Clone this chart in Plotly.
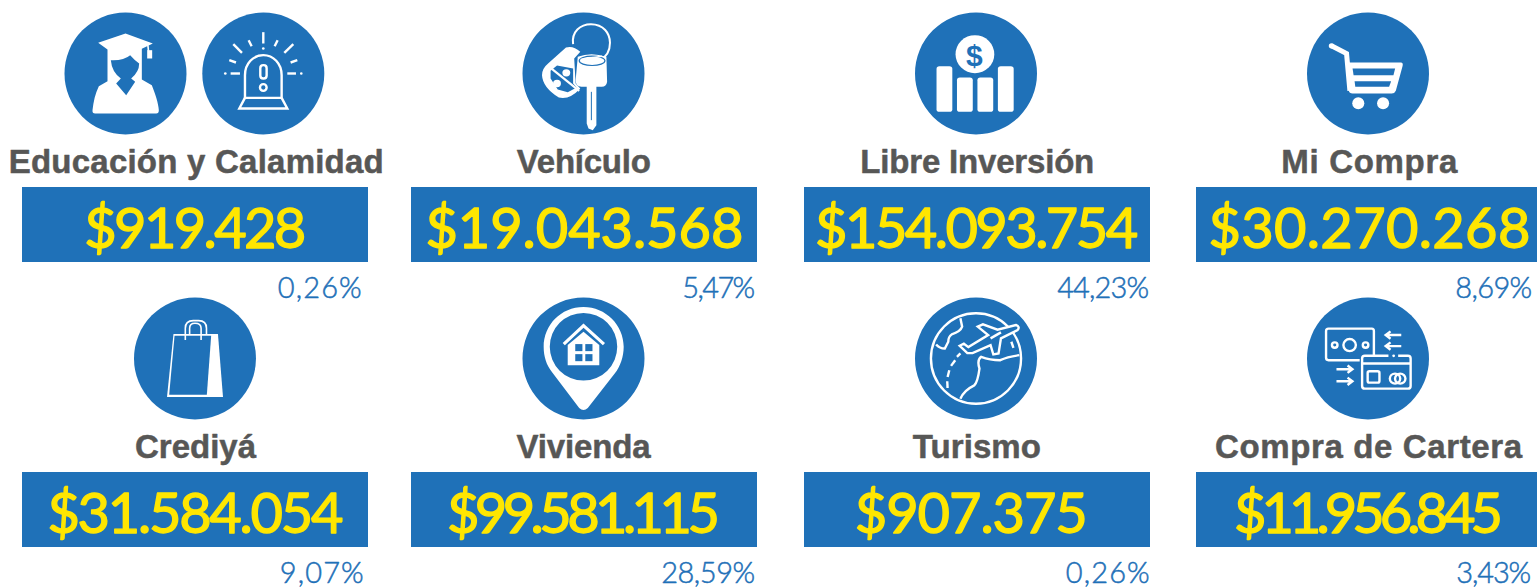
import re
import json
import plotly.graph_objects as go

# ---- data ----
categories = ["Educación y Calamidad", "Vehículo", "Libre Inversión", "Mi Compra",
              "Crediyá", "Vivienda", "Turismo", "Compra de Cartera"]
amounts = [919428, 19043568, 154093754, 30270268,
           31584054, 99581115, 907375, 11956845]
shares = ["0,26%", "5,47%", "44,23%", "8,69%",
          "9,07%", "28,59%", "0,26%", "3,43%"]

# ---- layout ----
W, H = 1537, 587
BLUE, YELLOW, GREY, WHITE = "#1f71b8", "#ffe600", "#575756", "#ffffff"
panel_x = [(22, 368), (411, 757), (804, 1150), (1196, 1537)]
title_x = [195.5, 584, 977, 1369]
amount_x = [195, 584, 976.5, 1369, 195, 583.5, 971.5, 1368.5]
share_right = [361, 759.5, 1153, 1534.5, 362.5, 758, 1148.5, 1534.5]
row_top = [0, 285]
title_w = [375, 134, 234, 176, 121, 134, 128, 307]
amount_w = [222, 318, 323, 322, 296, 273, 233, 269]
share_w = [84, 73, 92, 77, 84, 94, 84, 75]
R = 61

shapes = []


class Icon:
    """Draws with coordinates measured in a zoomed crop, mapped on a circle."""
    def __init__(self, cx, cy, zx, zy, rx, ry):
        self.cx, self.cy, self.zx, self.zy = cx, cy, zx, zy
        self.sx, self.sy = R / rx, R / ry
        shapes.append(dict(type="circle", x0=cx - R, x1=cx + R, y0=cy - R, y1=cy + R,
                           fillcolor=BLUE, line=dict(width=0)))

    def mx(self, x):
        return self.cx + (x - self.zx) * self.sx

    def my(self, y):
        return self.cy + (y - self.zy) * self.sy

    def path(self, d, fill=None, stroke=None, w=2.4):
        i = [0]

        def rep(m):
            v = float(m.group())
            out = self.mx(v) if i[0] % 2 == 0 else self.my(v)
            i[0] += 1
            return f"{out:.2f}"
        d2 = re.sub(r"-?\d+\.?\d*", rep, d)
        shapes.append(dict(type="path", path=d2, fillcolor=fill or "rgba(0,0,0,0)",
                           line=dict(color=stroke or "rgba(0,0,0,0)", width=w if stroke else 0)))

    def ell(self, x, y, rx, ry=None, fill=None, stroke=None, w=2.4):
        ry = rx if ry is None else ry
        shapes.append(dict(type="circle", x0=self.mx(x - rx), x1=self.mx(x + rx),
                           y0=self.my(y - ry), y1=self.my(y + ry),
                           fillcolor=fill or "rgba(0,0,0,0)",
                           line=dict(color=stroke or "rgba(0,0,0,0)", width=w if stroke else 0)))

    def rrect(self, x0, y0, x1, y1, r, fill=None, stroke=None, w=2.4):
        d = (f"M {x0+r} {y0} L {x1-r} {y0} Q {x1} {y0} {x1} {y0+r} L {x1} {y1-r} "
             f"Q {x1} {y1} {x1-r} {y1} L {x0+r} {y1} Q {x0} {y1} {x0} {y1-r} "
             f"L {x0} {y0+r} Q {x0} {y0} {x0+r} {y0} Z")
        self.path(d, fill, stroke, w)


def graduate():
    i = Icon(125.5, 73.5, 376, 220, 183, 183)
    i.path("M 376 100 L 458 130 L 425 146 L 425 238 L 455 255 C 465 280 475 310 476 330 "
           "Q 476 340 468 340 L 285 340 Q 276 340 277 330 C 280 305 285 280 296 258 "
           "L 322 243 L 322 148 L 294 128 Z", fill=WHITE)
    i.path("M 332 180 Q 370 182 390 165 Q 405 182 417 190 Q 417 215 393 235 L 405 245 "
           "L 378 285 L 348 250 L 362 235 Q 335 215 332 180 Z", fill=BLUE)
    i.path("M 443 135 L 445 152", stroke=WHITE, w=1.6)
    i.path("M 441 150 L 456 150 L 456 175 L 441 175 Z", fill=WHITE)


def siren():
    i = Icon(263.3, 73.5, 790, 220, 183, 183)
    for d in ["M 790 96 L 790 130", "M 700 132 L 726 158", "M 880 132 L 853 158",
              "M 746 120 L 755 138", "M 833 120 L 824 138", "M 688 180 L 708 187",
              "M 892 180 L 872 187", "M 692 220 L 720 220", "M 862 220 L 888 220"]:
        i.path(d, stroke=WHITE, w=2.4)
    for x, y in [(790, 145), (676, 220), (904, 220)]:
        i.ell(x, y, 4, fill=WHITE)
    i.path("M 735 293 L 735 225 C 735 190 760 165 790 165 C 820 165 845 190 845 225 L 845 293 Z",
           stroke=WHITE)
    i.path("M 735 293 L 718 325 L 862 325 L 845 293", stroke=WHITE)
    i.rrect(781, 195, 800, 235, 9, stroke=WHITE)
    i.ell(790, 262, 10, stroke=WHITE)


def keys():
    i = Icon(583.5, 73.5, 234, 220, 170.5, 183)
    i.path("M 205 132 C 200 95 225 72 255 72 C 290 72 308 100 308 128 C 308 150 298 170 280 180",
           stroke=WHITE, w=2)
    i.path("M 185 142 Q 205 135 225 155 L 208 175 L 212 250 L 225 265 Q 195 300 165 292 "
           "Q 120 262 118 225 Q 118 205 135 190 Z", fill=WHITE)
    i.path("M 142 212 L 160 196 L 205 205 L 205 250 L 215 262 L 190 276 L 162 268 L 142 235 Z", fill=BLUE)
    i.path("M 136 198 L 222 272", stroke=WHITE, w=2.2)
    i.ell(186, 218, 11, fill=WHITE)
    i.ell(160, 250, 11, fill=WHITE)
    i.path("M 218 170 Q 255 155 298 170 L 300 245 Q 298 260 285 260 L 270 260 L 270 375 "
           "L 260 390 L 248 385 L 243 370 L 243 260 L 228 260 Q 212 258 212 240 Z", fill=WHITE)
    i.ell(258, 182, 36, 14, stroke=BLUE, w=1.2)
    i.path("M 226 178 Q 258 172 286 168", stroke=WHITE, w=1.6)
    i.path("M 256 275 L 256 360", stroke=BLUE, w=1)


def coin_bars():
    i = Icon(976, 73.5, 1332, 220, 170, 183)
    i.ell(1329, 162, 54, 57, fill=WHITE)
    for x0, y0 in [(1222, 198), (1279, 232), (1336, 232), (1393, 198)]:
        i.rrect(x0, y0, x0 + 44, 335, 8, fill=WHITE)


def cart():
    i = Icon(1368, 73.5, 264, 220, 182, 183)
    i.path("M 203 187 L 362 187 Q 370 188 367 198 L 347 272 Q 344 280 335 280 L 218 280 "
           "Q 208 280 207 272 Z", fill=WHITE)
    i.path("M 218 205 L 345 205 L 340 225 L 221 225 Z", fill=BLUE)
    i.path("M 224 243 L 333 243 L 327 260 L 226 260 Z", fill=BLUE)
    i.path("M 155 137 L 200 160 L 210 272", stroke=WHITE, w=5)
    i.ell(155, 137, 8, fill=WHITE)
    i.ell(235, 309, 18, fill=WHITE)
    i.ell(309, 309, 18, fill=WHITE)


def bag():
    i = Icon(195, 358.5, 210, 190, 170, 182)
    i.path("M 150 117 L 274 117 L 288 305 L 132 305 Z", fill=WHITE)
    i.path("M 153 122 L 255 122 L 243 298 L 138 298 Z", fill=BLUE)
    i.path("M 183 135 L 183 100 Q 183 77 205 77 L 220 77 Q 242 77 242 100 L 242 117",
           stroke=WHITE, w=1.6)
    i.path("M 195 117 L 195 100 Q 195 85 210 85 Q 227 85 227 100 L 227 135", stroke=WHITE, w=1.6)


def pin():
    i = Icon(583.5, 358.5, 1298, 190, 170, 182)
    i.path("M 1298 36 C 1360 36 1410 90 1410 155 C 1410 185 1400 215 1385 235 L 1310 338 "
           "Q 1298 350 1286 338 L 1210 230 C 1195 210 1187 185 1187 155 C 1187 90 1235 36 1298 36 Z",
           fill=WHITE)
    i.ell(1298, 155, 94, 101, fill=BLUE)
    i.path("M 1254 210 L 1254 150 L 1298 110 L 1342 150 L 1342 210 Z", fill=WHITE)
    i.path("M 1243 147 L 1298 92 L 1355 147", stroke=WHITE, w=3.2)
    for x, y in [(1275, 147), (1303, 147), (1275, 177), (1303, 177)]:
        i.path(f"M {x} {y} L {x+20} {y} L {x+20} {y+21} L {x} {y+21} Z", fill=BLUE)


def globe():
    i = Icon(976, 358.5, 220, 190, 176, 182)
    i.ell(220, 190, 130, 135, stroke=WHITE)
    i.path("M 175 70 L 180 95 Q 175 110 150 118 Q 140 125 140 140 L 130 160 Q 115 160 105 148",
           stroke=WHITE)
    i.path("M 345 180 Q 310 185 290 195 Q 260 195 235 185 Q 222 195 230 220 Q 225 260 215 270 "
           "Q 185 285 175 310", stroke=WHITE)
    for d in ["M 175 175 L 165 185", "M 160 195 L 148 212", "M 143 225 L 138 245",
              "M 137 258 L 138 278", "M 322 140 L 328 158"]:
        i.path(d, stroke=WHITE)
    i.path("M 225 95 L 240 88 L 282 104 L 335 90 Q 348 95 340 105 L 292 130 L 285 175 L 270 178 "
           "L 262 150 L 210 174 L 195 174 L 173 152 L 185 146 L 198 156 L 255 120 Z",
           fill=BLUE, stroke=WHITE)
    i.path("M 262 130 L 292 112", stroke=WHITE)


def cards():
    i = Icon(1368, 358.5, 1359, 190, 176, 182)
    i.path("M 1335 195 L 1245 195 Q 1238 195 1238 188 L 1238 108 Q 1238 101 1245 101 L 1370 101 "
           "Q 1376 101 1376 108 L 1376 180", stroke=WHITE)
    i.ell(1263, 150, 8, stroke=WHITE)
    i.ell(1306, 150, 18, stroke=WHITE)
    i.ell(1352, 150, 8, stroke=WHITE)
    i.path("M 1418 182 L 1350 182 Q 1342 182 1342 190 L 1342 272 Q 1342 280 1350 280 L 1474 280 "
           "Q 1482 280 1482 272 L 1482 190 Q 1482 182 1474 182 L 1446 182", stroke=WHITE)
    i.ell(1433, 182, 4, fill=WHITE)
    i.path("M 1342 205 L 1482 205", stroke=WHITE)
    i.rrect(1358, 228, 1392, 262, 5, stroke=WHITE)
    i.ell(1437, 250, 15, stroke=WHITE)
    i.ell(1452, 250, 15, stroke=WHITE)
    for y in (120, 153):
        i.path(f"M 1455 {y} L 1412 {y} M 1424 {y-11} L 1410 {y} L 1424 {y+11}", stroke=WHITE)
    for y in (222, 258):
        i.path(f"M 1268 {y} L 1312 {y} M 1300 {y-11} L 1314 {y} L 1300 {y+11}", stroke=WHITE)


for draw in (graduate, siren, keys, coin_bars, cart, bag, pin, globe, cards):
    draw()

annotations = [dict(x=974, y=55, text="$", showarrow=False, xanchor="center", yanchor="middle",
                    font=dict(family="Liberation Sans", size=30, color=BLUE, weight="bold"))]
fit = {}

for k, name in enumerate(categories):
    col, row = k % 4, k // 4
    dy = row_top[row]
    x0, x1 = panel_x[col]
    shapes.append(dict(type="rect", x0=x0, x1=x1, y0=187 + dy, y1=262 + dy,
                       fillcolor=BLUE, line=dict(width=0)))
    annotations.append(dict(x=title_x[col], y=161.5 + dy, text=name, showarrow=False,
                            xanchor="center", yanchor="middle",
                            font=dict(family="Liberation Sans", size=33, color=GREY, weight="bold")))
    fit[name] = [title_w[k], GREY, 0.5]
    money = "$" + f"{amounts[k]:,}".replace(",", ".")
    annotations.append(dict(x=amount_x[k], y=226 + dy, text=money, showarrow=False,
                            xanchor="center", yanchor="middle",
                            font=dict(family="Lato", size=56, color=YELLOW)))
    fit[money] = [amount_w[k], YELLOW, 1.3]
    annotations.append(dict(x=share_right[k], y=286 + dy, text=shares[k], showarrow=False,
                            xanchor="right", yanchor="middle",
                            font=dict(family="Lato", size=29, color=BLUE, weight=300)))
    fit[shares[k]] = [share_w[k], BLUE, 0.5]

# fit each real text to the width it has in the reference
post = """
document.body.style.margin='0';document.body.style.overflow='hidden';
var fit = %s;
document.querySelectorAll('.annotation-text').forEach(function(t){
  var f = fit[t.textContent];
  if(!f) return;
  t.setAttribute('textLength', f[0]);
  t.setAttribute('lengthAdjust', 'spacing');
  t.style.stroke = f[1];
  t.style.strokeWidth = f[2] + 'px';
  t.style.strokeLinejoin = 'round';
  t.style.strokeLinecap = 'round';
});
""" % json.dumps(fit, ensure_ascii=False)

fig = go.Figure()
fig.update_layout(
    width=W, height=H, margin=dict(l=0, r=0, t=0, b=0, pad=0),
    paper_bgcolor="white", plot_bgcolor="white", showlegend=False,
    xaxis=dict(range=[0, W], visible=False, fixedrange=True),
    yaxis=dict(range=[H, 0], visible=False, fixedrange=True),
    shapes=shapes, annotations=annotations,
)
fig.write_html("out.html", post_script=post, config=dict(displayModeBar=False))
